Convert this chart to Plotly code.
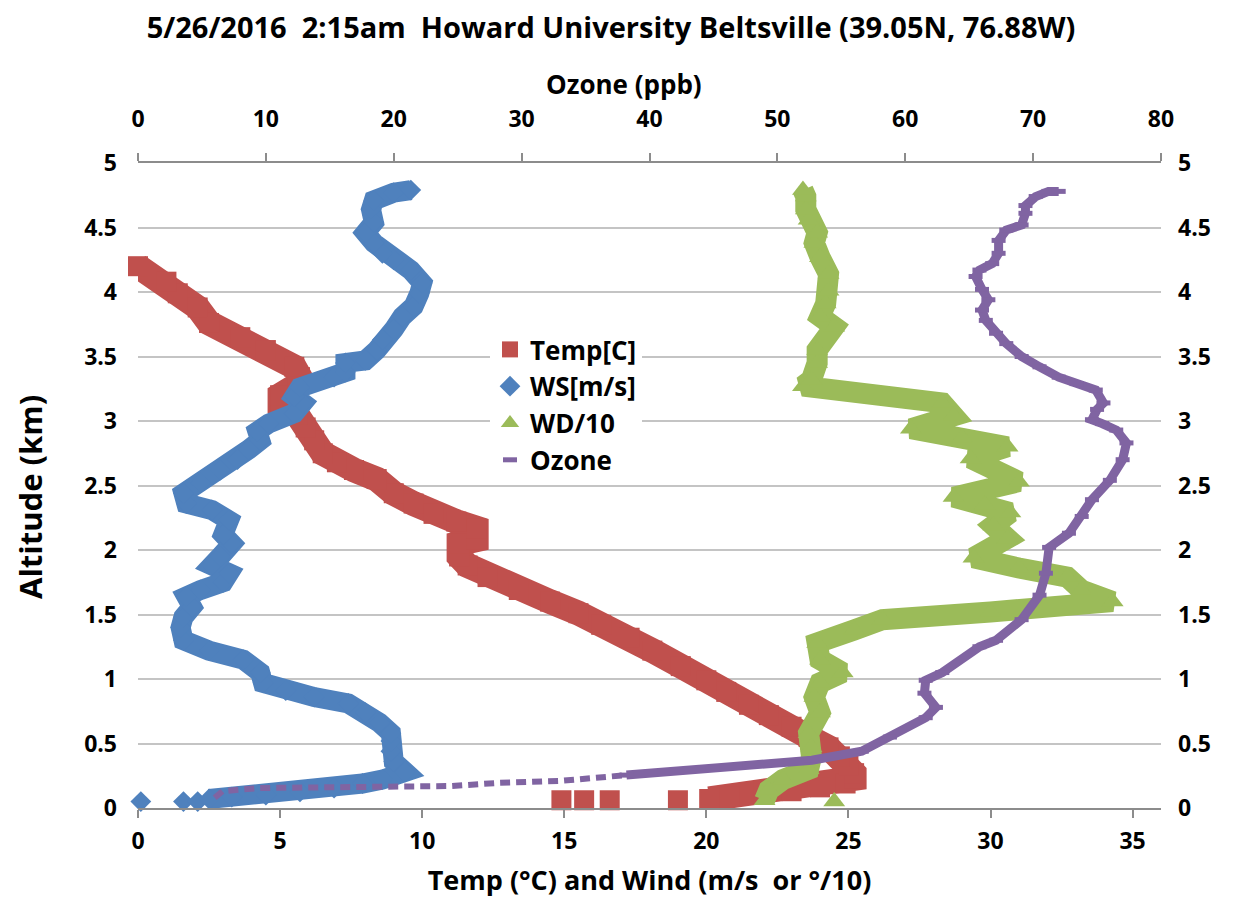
import plotly.graph_objects as go

# ---------------- data ----------------
# Temperature [C] vs altitude [km]
temp_sfc = [14.9, 15.7, 16.6, 19.0]
temp_sfc_alt = [0.06, 0.06, 0.06, 0.06]
temp = [20.1, 20.8, 22.0, 23.0, 24.0, 24.9, 25.2, 25.2, 25.0, 24.7, 24.3, 23.6, 23.0,
        22.2, 21.5, 20.7, 20.0, 19.1, 18.1, 17.3, 16.3, 15.5, 14.5, 13.4, 12.3, 11.6,
        11.3, 11.3, 11.9, 11.9, 11.2, 10.4, 9.7, 9.0, 8.4, 7.6, 7.0, 6.5, 6.2, 5.9,
        5.6, 5.0, 5.0, 5.6, 5.7, 5.5, 4.5, 3.6, 2.5, 2.1, 1.4, 1.0, 0.0]
temp_alt = [0.07, 0.09, 0.11, 0.13, 0.16, 0.19, 0.23, 0.27, 0.33, 0.40, 0.47, 0.55, 0.63,
            0.72, 0.80, 0.90, 0.99, 1.10, 1.22, 1.32, 1.42, 1.51, 1.60, 1.69, 1.79, 1.88,
            1.95, 2.05, 2.08, 2.17, 2.22, 2.28, 2.36, 2.44, 2.55, 2.62, 2.68, 2.75, 2.85, 2.95,
            3.05, 3.12, 3.20, 3.28, 3.34, 3.42, 3.55, 3.65, 3.76, 3.88, 3.99, 4.08, 4.20]

# Wind speed [m/s]
ws_sfc = [0.1, 1.6, 2.1]
ws_sfc_alt = [0.05, 0.05, 0.05]
ws = [2.5, 3.3, 4.5, 5.7, 6.9, 7.9, 8.6, 9.4, 9.0, 8.9, 8.9, 8.9, 8.5, 8.0, 7.4, 6.2,
      5.2, 4.4, 4.3, 3.7, 2.5, 1.6, 1.5, 1.6, 1.9, 1.7, 2.2, 3.0, 3.2, 2.6, 2.9, 3.3,
      3.0, 3.2, 2.6, 1.7, 1.6, 2.2, 2.9, 3.5, 3.9, 4.3, 4.2, 4.6, 5.5, 5.8, 5.5, 5.7,
      6.9, 7.3, 7.3, 8.0, 8.4, 8.6, 9.0, 9.3, 9.7, 9.9, 10.0, 9.6, 9.0, 8.6, 8.3, 8.0,
      8.3, 8.2, 8.3, 9.0, 9.6]
ws_alt = [0.07, 0.085, 0.10, 0.125, 0.155, 0.19, 0.22, 0.28, 0.36, 0.44, 0.52, 0.58, 0.66,
          0.74, 0.81, 0.86, 0.91, 0.97, 1.05, 1.15, 1.22, 1.30, 1.40, 1.48, 1.56, 1.64,
          1.69, 1.75, 1.82, 1.88, 1.95, 2.05, 2.12, 2.23, 2.31, 2.36, 2.44, 2.52, 2.62,
          2.70, 2.78, 2.85, 2.92, 2.98, 3.06, 3.14, 3.19, 3.26, 3.34, 3.38, 3.45, 3.47,
          3.55, 3.63, 3.71, 3.81, 3.89, 3.99, 4.07, 4.17, 4.25, 4.30, 4.38, 4.46, 4.54,
          4.64, 4.71, 4.77, 4.79]

# Wind direction / 10 [deg/10]
wd_sfc = [24.5]
wd_sfc_alt = [0.05]
wd = [22.05, 22.2, 22.7, 23.6, 23.7, 23.7, 23.6, 24.0, 23.8, 24.0, 24.8, 24.0, 23.9,
      25.2, 26.2, 30.0, 34.3, 33.2, 32.7, 31.0, 29.4, 30.6, 30.1, 30.7, 29.8, 28.7,
      31.0, 29.3, 30.6, 29.0, 27.2, 28.7, 28.3, 23.4, 23.7, 23.9, 23.9, 24.5, 24.0,
      24.2, 24.3, 24.3, 24.0, 23.8, 23.9, 23.6, 23.5, 23.5, 23.4]
wd_alt = [0.06, 0.14, 0.22, 0.30, 0.40, 0.47, 0.58, 0.74, 0.86, 0.97, 1.05, 1.15, 1.28,
          1.38, 1.46, 1.52, 1.60, 1.69, 1.79, 1.86, 1.94, 2.09, 2.19, 2.29, 2.35, 2.41,
          2.53, 2.71, 2.80, 2.87, 2.94, 3.04, 3.14, 3.27, 3.32, 3.45, 3.55, 3.73, 3.81,
          3.91, 4.01, 4.14, 4.27, 4.38, 4.46, 4.56, 4.64, 4.74, 4.79]

# Ozone [ppb]
oz_low = [6.0, 6.6, 9.5, 16.6, 24.4, 28.3, 33.0, 38.2]
oz_low_alt = [0.08, 0.13, 0.155, 0.165, 0.17, 0.195, 0.21, 0.255]
oz = [38.2, 44.9, 47.8, 52.7, 56.6, 58.8, 61.6, 62.4, 61.5, 61.6, 62.9, 65.8, 67.1, 69.1,
      70.5, 71.0, 71.25, 72.8, 73.8, 74.6, 76.0, 77.0, 77.3, 76.5, 75.4, 74.6, 75.0,
      75.5, 74.9, 73.4, 72.0, 70.5, 69.1, 67.9, 67.1, 66.3, 66.0, 66.5, 66.0, 65.5,
      65.8, 66.8, 67.3, 67.3, 67.9, 69.1, 69.4, 69.4, 70.2, 71.2, 72.0]
oz_alt = [0.255, 0.31, 0.33, 0.37, 0.44, 0.55, 0.70, 0.78, 0.89, 0.99, 1.05, 1.25, 1.30, 1.46,
          1.65, 1.82, 2.02, 2.13, 2.26, 2.39, 2.54, 2.70, 2.83, 2.93, 2.98, 3.01, 3.09,
          3.14, 3.24, 3.29, 3.34, 3.42, 3.50, 3.60, 3.68, 3.78, 3.86, 3.94, 4.02, 4.12,
          4.17, 4.22, 4.30, 4.40, 4.48, 4.52, 4.61, 4.67, 4.74, 4.78, 4.78]

alt_ticks = [0, 0.5, 1, 1.5, 2, 2.5, 3, 3.5, 4, 4.5, 5]
bottom_ticks = [0, 5, 10, 15, 20, 25, 30, 35]
top_ticks = [0, 10, 20, 30, 40, 50, 60, 70, 80]

# ---------------- styling ----------------
RED, BLUE, GREEN, PURPLE = "#C0504D", "#4F81BD", "#9BBB59", "#8064A2"
FONT = "Open Sans"
GRID = "#C4C4C4"
AXLINE = "#8C8C8C"

# the page body adds an 8px offset; the figure is sized to fill the rest of the window
W, H = 1234, 890

fig = go.Figure()

def ribbon(x, y, color, width, xa="x", ya="y", dash="solid"):
    fig.add_trace(go.Scatter(x=x, y=y, mode="lines", xaxis=xa, yaxis=ya,
                             line=dict(color=color, width=width, dash=dash),
                             showlegend=False, hoverinfo="skip"))

def marks(x, y, color, symbol, size, name, legend, xa="x", ya="y"):
    fig.add_trace(go.Scatter(x=x, y=y, mode="markers", name=name, xaxis=xa, yaxis=ya,
                             marker=dict(color=color, symbol=symbol, size=size,
                                         line=dict(width=0)),
                             cliponaxis=False, showlegend=legend))

# Temperature
ribbon(temp, temp_alt, RED, 25)
marks(temp_sfc + temp, temp_sfc_alt + temp_alt, RED, "square", 20, "Temp[C]", True)
# Wind speed
ribbon(ws, ws_alt, BLUE, 20)
marks(ws_sfc + ws, ws_sfc_alt + ws_alt, BLUE, "diamond", 16, "WS[m/s]", True)
# Wind direction
ribbon(wd, wd_alt, GREEN, 21)
marks(wd_sfc + wd, wd_sfc_alt + wd_alt, GREEN, "triangle-up", 19, "WD/10", True)
# Ozone (top axis)
ribbon(oz_low, oz_low_alt, PURPLE, 6, xa="x2", ya="y2", dash="10px,6px")
ribbon(oz, oz_alt, PURPLE, 9, xa="x2", ya="y2")
fig.add_trace(go.Scatter(x=oz, y=oz_alt, mode="markers", name="Ozone", xaxis="x2", yaxis="y2",
                         marker=dict(color=PURPLE, symbol="line-ew", size=10,
                                     line=dict(color=PURPLE, width=5)),
                         cliponaxis=False, showlegend=True))

tickfont = dict(family=FONT, size=23, color="black", weight="bold")
titlefont = dict(family=FONT, size=27, color="black", weight="bold")

# plot area spans 1023 x 645 px; helpers to place the side titles
PW, PH = 1023, 645

fig.update_layout(
    width=W, height=H,
    margin=dict(l=130, r=81, t=155, b=90, autoexpand=False),
    paper_bgcolor="white", plot_bgcolor="white",
    font=dict(family=FONT, color="black", weight="bold"),
    title=dict(text="5/26/2016\u00a0 2:15am\u00a0 Howard University Beltsville (39.05N, 76.88W)",
               x=603 / W, xanchor="center", y=1 - 20 / H, yanchor="middle",
               font=dict(family=FONT, size=29, color="black", weight="bold"),
               automargin=False),
    xaxis=dict(range=[0, 36], tickvals=bottom_ticks, ticks="outside", ticklen=8,
               tickcolor=AXLINE, tickwidth=2, showline=True, linecolor=AXLINE, linewidth=2,
               showgrid=False, zeroline=False, tickfont=tickfont, ticklabelstandoff=3,
               automargin=False,
               title=dict(text="Temp (°C) and Wind (m/s\u00a0 or °/10)", font=titlefont,
                          standoff=17),
               anchor="y"),
    xaxis2=dict(range=[0, 80], tickvals=top_ticks, ticks="outside", ticklen=8,
                tickcolor=AXLINE, tickwidth=2, showline=True, linecolor=AXLINE, linewidth=2,
                showgrid=False, zeroline=False, tickfont=tickfont, ticklabelstandoff=17,
                side="top", overlaying="x", anchor="y2", automargin=False),
    yaxis=dict(range=[0, 5], tickvals=alt_ticks, ticks="", showline=False,
               showgrid=True, gridcolor=GRID, gridwidth=2, zeroline=False,
               tickfont=tickfont, ticklabelstandoff=20, automargin=False),
    yaxis2=dict(range=[0, 5], tickvals=alt_ticks, ticks="", showline=False,
                showgrid=False, zeroline=False, side="right", overlaying="y", anchor="x2",
                tickfont=tickfont, ticklabelstandoff=16, automargin=False),
    legend=dict(x=(490 - 138) / PW, y=(808 - 326) / PH, xanchor="left", yanchor="top",
                bgcolor="white", borderwidth=0, font=dict(family=FONT, size=26, color="black",
                                                          weight="bold"),
                tracegroupgap=0, itemwidth=30),
    annotations=[
        dict(text="Ozone (ppb)", xref="paper", yref="paper",
             x=(624 - 138) / PW, y=(808 - 84) / PH, xanchor="center", yanchor="middle",
             showarrow=False, font=dict(family=FONT, size=26, color="black", weight="bold")),
        dict(text="Altitude (km)", xref="paper", yref="paper", textangle=-90,
             x=(30 - 138) / PW, y=(808 - 497) / PH, xanchor="center", yanchor="middle",
             showarrow=False, font=dict(family=FONT, size=31, color="black", weight="bold")),
    ],
)

fig.write_html("out.html")
